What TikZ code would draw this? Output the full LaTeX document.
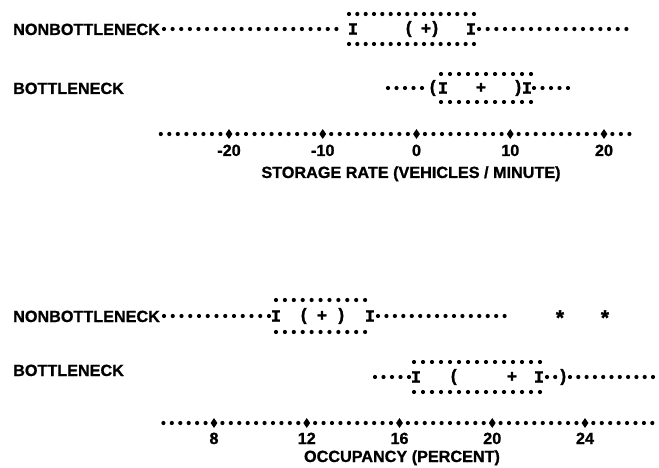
\documentclass[tikz,border=0pt]{standalone}
\usepackage{fontspec}
\setmainfont{Liberation Sans}
\newfontface\heavy{Liberation Sans Bold}[FakeBold=1]
\newfontface\glyphfont{Liberation Mono Bold}[FakeBold=1.5]
\usetikzlibrary{shapes.geometric}
\tikzset{
  lbl/.style={font=\heavy\fontsize{16.2}{18}\selectfont, inner sep=0pt, anchor=base west},
  num/.style={font=\heavy\fontsize{16.2}{18}\selectfont, inner sep=0pt, anchor=base},
  ch/.style={font=\glyphfont\fontsize{17}{18}\selectfont, inner sep=0pt, anchor=center},
  star/.style={font=\glyphfont\fontsize{21}{22}\selectfont, inner sep=0pt, anchor=center},
  dotline/.style={line width=4.2pt, line cap=round, dash pattern=on 0pt off #1pt},
  dotline/.default=8.45,
  tickmark/.style={diamond, fill=black, inner sep=0pt, minimum width=7pt, minimum height=10pt}
}
\begin{document}
\begin{tikzpicture}[x=1pt,y=-1pt]
\useasboundingbox (0,0) rectangle (659,468);
% ---------------- top panel ----------------
\node[lbl] (l1) at (13,35) {NONBOTTLENECK};
\coordinate (a1) at (164,29); \coordinate (a2) at (345,29);
\coordinate (a3) at (479,29); \coordinate (a4) at (635,29);
\coordinate (bt1) at (349,14); \coordinate (bt2) at (474,14);
\coordinate (bb1) at (349,44); \coordinate (bb2) at (474,44);
\draw[dotline=8.62] (a1) -- (a2);
\draw[dotline=8.67] (a3) -- (a4);
\draw[dotline=8.33] (bt1) -- (bt2);
\draw[dotline=8.33] (bb1) -- (bb2);
\node[ch] (i1) at (353,29) {I};
\node[ch] (p1) at (409,29) {(};
\node[ch] (m1) at (426,29) {+};
\node[ch] (q1) at (435,29) {)};
\node[ch] (j1) at (471,29) {I};

\node[lbl] (l2) at (13,94) {BOTTLENECK};
\coordinate (c1) at (388,88); \coordinate (c2) at (422,88);
\coordinate (c3) at (534,88); \coordinate (c4) at (568,88);
\coordinate (dt1) at (441,74); \coordinate (dt2) at (531,74);
\coordinate (db1) at (441,102); \coordinate (db2) at (531,102);
\draw[dotline=8.5] (c1) -- (c2);
\draw[dotline=8.5] (c3) -- (c4);
\draw[dotline=9] (dt1) -- (dt2);
\draw[dotline=9] (db1) -- (db2);
\node[ch] (p2) at (433,88) {(};
\node[ch] (i2) at (443,88) {I};
\node[ch] (m2) at (481,88) {+};
\node[ch] (q2) at (518,88) {)};
\node[ch] (j2) at (527,88) {I};

\coordinate (x1) at (160.8,134); \coordinate (x2) at (631,134);
\draw[dotline=8.52] (x1) -- (x2);
\node[tickmark] (t1) at (229,134) {};
\node[tickmark] (t2) at (322.75,134) {};
\node[tickmark] (t3) at (416.5,134) {};
\node[tickmark] (t4) at (510.25,134) {};
\node[tickmark] (t5) at (604,134) {};
\node[num] (n1) at (t1 |- 0,156) {-20};
\node[num] (n2) at (t2 |- 0,156) {-10};
\node[num] (n3) at (t3 |- 0,156) {0};
\node[num] (n4) at (t4 |- 0,156) {10};
\node[num] (n5) at (t5 |- 0,156) {20};
\node[num] (ttl1) at (411,178) {STORAGE RATE (VEHICLES / MINUTE)};

% ---------------- bottom panel ----------------
\node[lbl] (l3) at (13,322) {NONBOTTLENECK};
\coordinate (e1) at (164,316); \coordinate (e2) at (269,316);
\coordinate (e3) at (378,316); \coordinate (e4) at (513,316);
\coordinate (ft1) at (276,300); \coordinate (ft2) at (374,300);
\coordinate (fb1) at (276,332); \coordinate (fb2) at (374,332);
\draw[dotline=8.75] (e1) -- (e2);
\draw[dotline=8.44] (e3) -- (e4);
\draw[dotline=8.91] (ft1) -- (ft2);
\draw[dotline=8.91] (fb1) -- (fb2);
\node[ch] (i3) at (276,316) {I};
\node[ch] (p3) at (304,316) {(};
\node[ch] (m3) at (322,316) {+};
\node[ch] (q3) at (341,316) {)};
\node[ch] (j3) at (370,316) {I};
\node[star] (s1) at (560,318) {*};
\node[star] (s2) at (605,318) {*};

\node[lbl] (l4) at (13,376) {BOTTLENECK};
\coordinate (g1) at (375,377); \coordinate (g2) at (409,377);
\coordinate (g3) at (547,377); \coordinate (g4) at (555.5,377);
\coordinate (g5) at (570,377); \coordinate (g6) at (653,377);
\coordinate (ht1) at (414,362); \coordinate (ht2) at (540,362);
\coordinate (hb1) at (414,392); \coordinate (hb2) at (540,392);
\draw[dotline=8.5] (g1) -- (g2);
\draw[dotline=8.2] (g3) -- (g4);
\draw[dotline=8.3] (g5) -- (g6);
\draw[dotline=9] (ht1) -- (ht2);
\draw[dotline=9] (hb1) -- (hb2);
\node[ch] (i4) at (416,377) {I};
\node[ch] (p4) at (454,377) {(};
\node[ch] (m4) at (512,377) {+};
\node[ch] (j4) at (539,377) {I};
\node[ch] (q4) at (563,377) {)};

\coordinate (y1) at (163.4,423); \coordinate (y2) at (653,423);
\draw[dotline=8.43] (y1) -- (y2);
\node[tickmark] (u1) at (214,423) {};
\node[tickmark] (u2) at (306.75,423) {};
\node[tickmark] (u3) at (399.5,423) {};
\node[tickmark] (u4) at (492.25,423) {};
\node[tickmark] (u5) at (585,423) {};
\node[num] (k1) at (u1 |- 0,444) {8};
\node[num] (k2) at (u2 |- 0,444) {12};
\node[num] (k3) at (u3 |- 0,444) {16};
\node[num] (k4) at (u4 |- 0,444) {20};
\node[num] (k5) at (u5 |- 0,444) {24};
\node[num] (ttl2) at (402,462) {OCCUPANCY (PERCENT)};
\end{tikzpicture}
\end{document}
